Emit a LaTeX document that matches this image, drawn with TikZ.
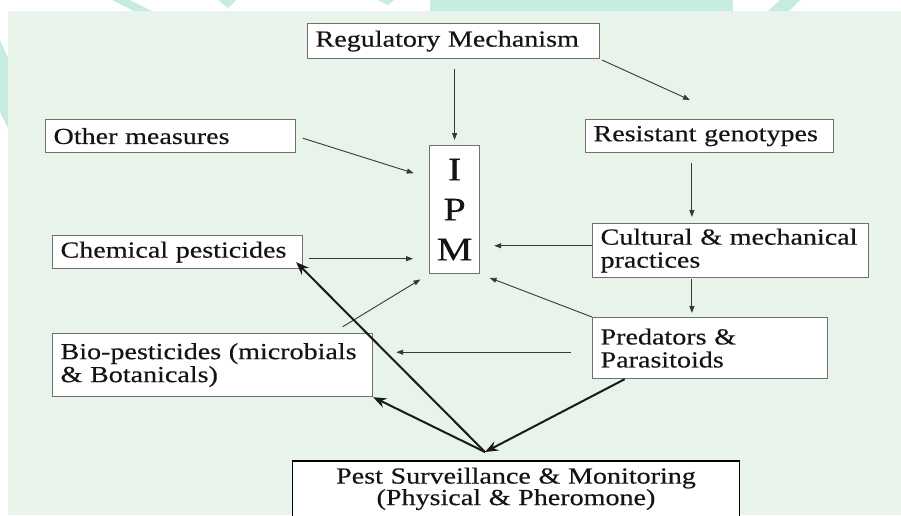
\documentclass[tikz,border=0pt]{standalone}
\usepackage{fontspec}
\setmainfont[FakeStretch=1.22,FakeBold=0.4]{Liberation Serif}
\usetikzlibrary{arrows.meta,calc}
\definecolor{bggreen}{RGB}{232,243,234}
\definecolor{wmteal}{RGB}{198,236,224}
\definecolor{boxline}{RGB}{112,112,112}
\definecolor{inkgray}{RGB}{55,55,55}

\begin{document}
\begin{tikzpicture}[x=1pt,y=-1pt,
    box/.style={draw=boxline,line width=1.2pt,fill=white,anchor=north west,align=left,
        inner xsep=8pt,inner ysep=0pt,font=\fontsize{23}{23}\selectfont,text=black!92},
    arr/.style={draw=inkgray,line width=0.9pt,-{Triangle[length=7pt,width=5pt]}},
    bold arr/.style={draw=black!90,line width=2pt,-{Stealth[length=13pt,width=10pt]}}]
    \useasboundingbox (0,0) rectangle (901,515);
    \fill[white] (0,0) rectangle (901,515);
    % watermark bits round the slide
    \fill[wmteal] (430,0) rectangle (733,11);
    \fill[wmteal] (112,0) -- (130,0) -- (152,11) -- (134,11) -- cycle;
    \fill[wmteal] (218,0) -- (236,0) -- (228,8) -- cycle;
    \fill[wmteal] (378,0) -- (394,0) -- (388,5) -- cycle;
    \fill[wmteal] (780,0) -- (800,0) -- (789,11) -- (768,11) -- cycle;
    \fill[wmteal] (0,40) -- (8,58) -- (8,128) -- (0,112) -- cycle;
    \fill[bggreen] (8,11) rectangle (901,515);

    \node[box,text width=276pt,minimum height=35pt] (reg) at (307,23) {Regulatory Mechanism};
    \node[box,text width=234pt,minimum height=33pt] (other) at (45,119) {Other measures};
    \node[box,text width=232pt,minimum height=33pt] (res) at (585,119) {Resistant genotypes};
    \node[box,text width=234pt,minimum height=33pt] (chem) at (52,235) {Chemical pesticides};
    \node[box,text width=260pt,minimum height=54pt] (cult) at (592,223) {Cultural \& mechanical\\practices};
    \node[box,text width=219pt,minimum height=61pt] (pred) at (592,317) {Predators \&\\Parasitoids};
    \node[box,text width=304pt,minimum height=63pt] (bio) at (52,333) {Bio-pesticides (microbials\\\& Botanicals)};
    \node[box,draw=none,anchor=north,align=center,text width=430pt,inner ysep=6pt,
        font=\fontsize{23}{21.5}\selectfont] (pest) at (516,461) {Pest Surveillance \& Monitoring\\(Physical \& Pheromone)};
    \draw[black,line width=1.6pt] (pest.north west) rectangle ([yshift=-14pt]pest.south east);
    \node[box,align=center,inner sep=0pt,minimum width=50pt,minimum height=128pt,
        font=\fontsize{33}{40}\selectfont] (ipm) at (429,145) {I\\P\\M};

    \coordinate (hub) at (485,452);
    \coordinate (regtip) at (690,100);

    \draw[arr,shorten <=10pt,shorten >=5pt] (ipm.north |- reg.south) -- (ipm.north);
    \draw[arr,shorten <=2pt] (reg.south east) -- (regtip);
    \draw[arr,shorten <=7pt,shorten >=16pt] (other.east) -- (ipm.129);
    \draw[arr,shorten <=6pt,shorten >=16pt] (chem.-3) -- (chem.-3 -| ipm.west);
    \draw[arr,shorten >=14pt] (cult.178) -- (cult.178 -| ipm.east);
    \draw[arr,shorten >=10pt] (pred.north west) -- (ipm.south east);
    \draw[arr,shorten <=12pt,shorten >=10pt] (bio.15) -- (ipm.south west);
    \draw[arr,shorten <=21pt,shorten >=23pt] (pred.182) -- (pred.182 -| bio.east);
    \draw[arr,shorten <=10pt,shorten >=6pt] (res.-136) -- (res.-136 |- cult.north);
    \draw[arr,shorten <=1pt,shorten >=4pt] (cult.south -| res.-136) -- (pred.north -| res.-136);

    \draw[bold arr,shorten >=-10pt] (hub) -- (chem.south east);
    \draw[bold arr] (hub) -- (bio.south east);
    \draw[bold arr] (pred.200) -- (hub);
\end{tikzpicture}
\end{document}
